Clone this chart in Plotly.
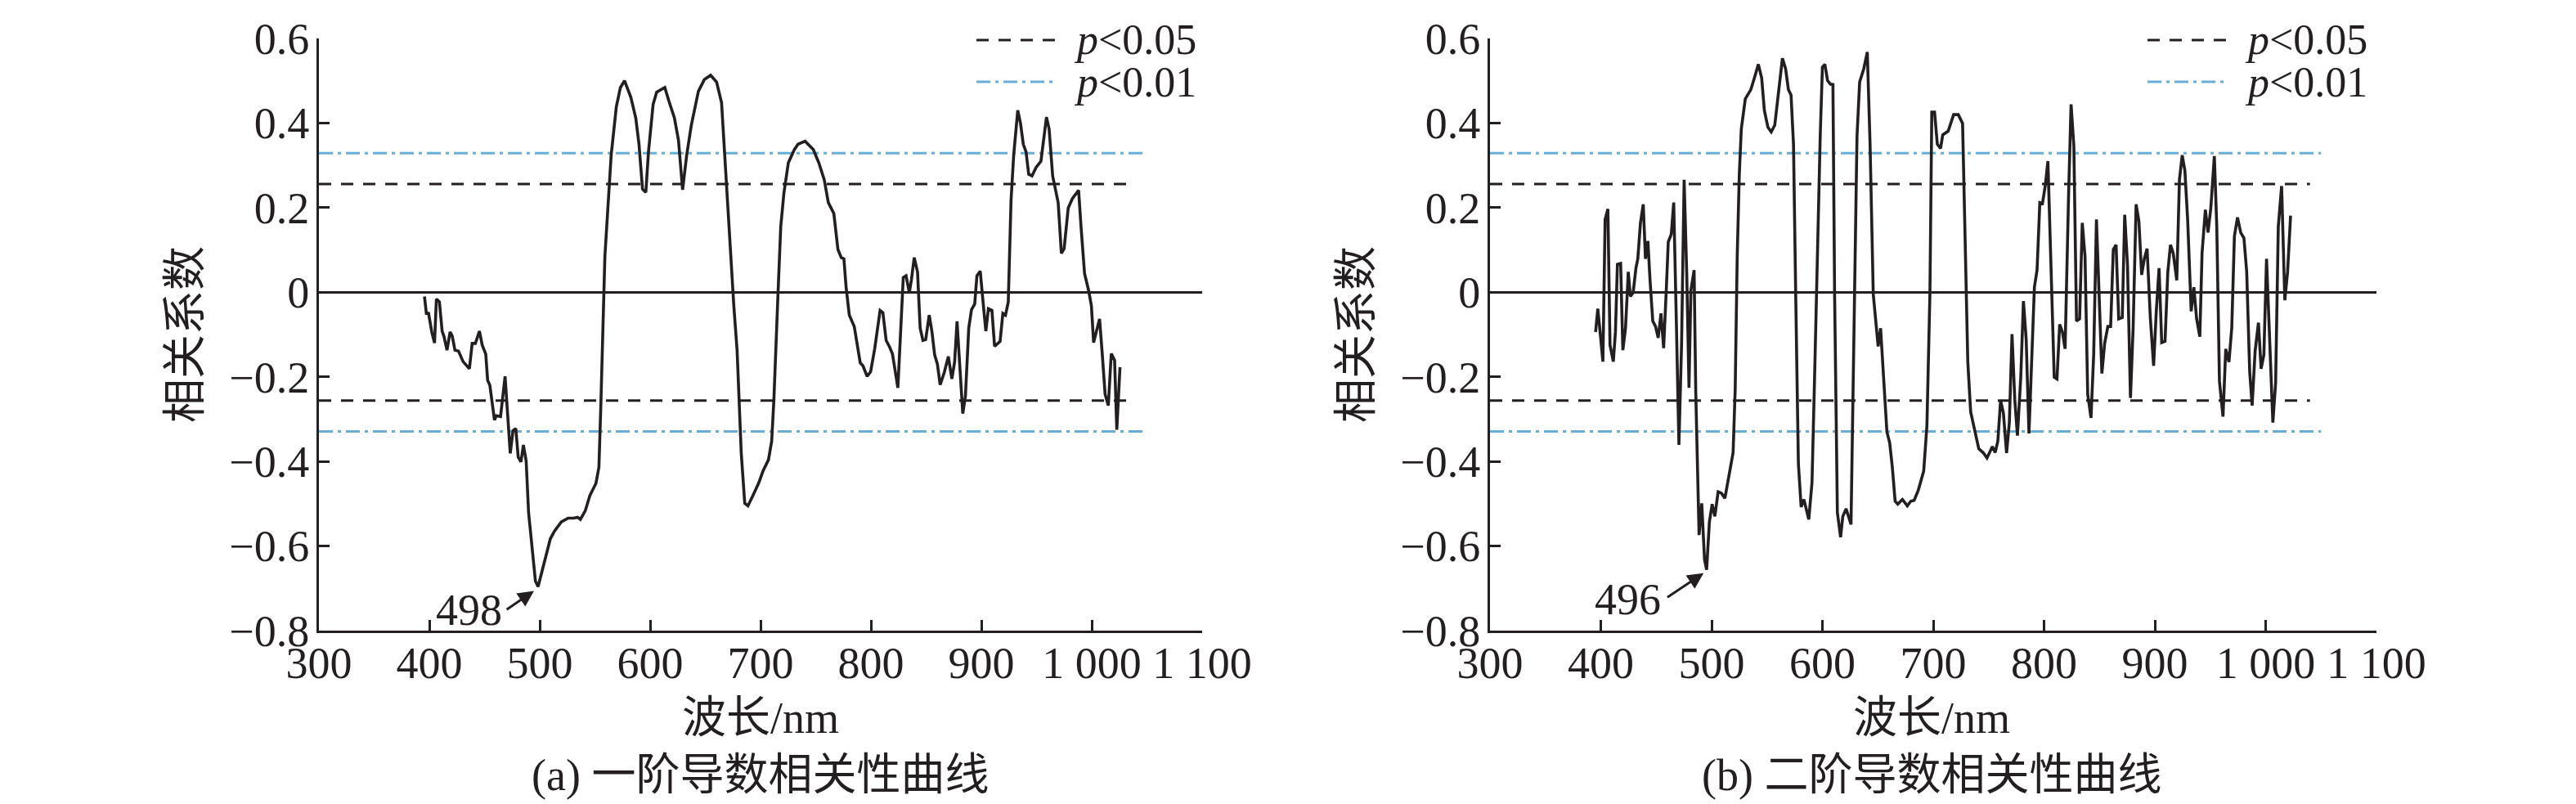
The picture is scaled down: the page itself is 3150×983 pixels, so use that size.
import plotly.graph_objects as go
from plotly.subplots import make_subplots

# 波长 (nm) 与相关系数 —— 一阶导数
wl_a = [395.6, 397.3, 399.3, 402.2, 404.7, 406.4, 409.1, 411.6, 413.3, 416.0, 418.8, 420.7,
        423.2, 426.4, 430.6, 436.3, 438.8, 441.7, 445.4, 447.9, 451.1, 452.8, 454.8, 459.0,
        460.7, 464.5, 468.6, 470.9, 473.3, 475.8, 478.3, 480.5, 483.0, 485.2, 487.7, 489.9,
        493.1, 496.1, 498.5, 503.0, 509.6, 513.3, 519.5, 525.7, 530.6, 534.3, 536.8, 541.2,
        545.4, 550.9, 553.6, 555.3, 557.0, 559.0, 561.5, 564.7, 569.4, 573.1, 576.8, 582.5,
        587.0, 589.9, 593.1, 596.1, 598.5, 602.7, 605.9, 613.3, 617.0, 622.0, 625.7, 629.4,
        633.1, 637.3, 643.7, 649.1, 654.8, 660.2, 664.7, 667.6, 670.1, 672.6, 675.8, 678.8,
        682.5, 685.7, 688.6, 693.6, 698.5, 702.2, 707.2, 710.1, 712.1, 715.8, 718.3, 721.2,
        725.2, 730.6, 734.0, 740.4, 747.9, 752.8, 757.7, 761.4, 766.4, 770.1, 773.1, 775.5,
        777.5, 780.4, 784.9, 790.3, 792.8, 796.5, 799.7, 803.4, 808.3, 810.8, 813.8, 817.0,
        819.5, 824.4, 826.9, 829.3, 831.8, 834.8, 836.7, 839.2, 842.2, 844.6, 847.1, 849.6,
        852.8, 855.3, 857.7, 860.2, 862.7, 866.4, 870.1, 873.3, 875.8, 878.0, 880.7, 883.2,
        885.6, 888.6, 891.1, 894.0, 896.0, 899.0, 902.2, 904.1, 906.4, 909.6, 912.0, 917.0,
        919.5, 921.9, 924.4, 926.9, 929.3, 933.0, 935.5, 938.0, 940.5, 942.9, 945.9, 949.6,
        954.0, 959.0, 961.4, 964.6, 969.6, 972.5, 975.0, 978.7, 982.4, 988.1, 990.3, 993.5,
        997.2, 999.7, 1001.7, 1004.6, 1007.1, 1009.6, 1012.1, 1015.0, 1017.7, 1020.7, 1022.7,
        1025.6]
r_a = [-0.01, -0.05, -0.05, -0.094, -0.12, -0.016, -0.023, -0.092, -0.105, -0.137, -0.094, -0.103,
       -0.137, -0.139, -0.164, -0.181, -0.121, -0.121, -0.092, -0.125, -0.146, -0.208, -0.22, -0.302,
       -0.292, -0.294, -0.199, -0.281, -0.381, -0.327, -0.322, -0.39, -0.401, -0.361, -0.399, -0.521,
       -0.601, -0.683, -0.696, -0.65, -0.583, -0.565, -0.543, -0.534, -0.534, -0.532, -0.537, -0.517,
       -0.481, -0.452, -0.414, -0.272, -0.094, 0.084, 0.19, 0.324, 0.439, 0.484, 0.5, 0.461,
       0.412, 0.35, 0.244, 0.236, 0.332, 0.444, 0.473, 0.484, 0.452, 0.412, 0.359, 0.242,
       0.324, 0.395, 0.475, 0.503, 0.513, 0.497, 0.448, 0.324, 0.208, 0.084, -0.032, -0.139,
       -0.379, -0.499, -0.505, -0.478, -0.45, -0.423, -0.396, -0.352, -0.254, -0.005, 0.155, 0.235,
       0.306, 0.337, 0.35, 0.357, 0.337, 0.306, 0.266, 0.212, 0.186, 0.101, 0.082, 0.079,
       0.012, -0.054, -0.081, -0.167, -0.174, -0.199, -0.188, -0.134, -0.043, -0.048, -0.114, -0.13,
       -0.146, -0.226, -0.094, 0.035, 0.039, -0.001, 0.03, 0.082, 0.048, -0.085, -0.114, -0.112,
       -0.054, -0.094, -0.148, -0.17, -0.219, -0.19, -0.152, -0.205, -0.165, -0.069, -0.183, -0.287,
       -0.245, -0.085, -0.041, -0.028, 0.039, 0.05, -0.041, -0.092, -0.039, -0.043, -0.128, -0.116,
       -0.05, -0.054, -0.023, 0.217, 0.324, 0.43, 0.399, 0.35, 0.332, 0.279, 0.275, 0.295,
       0.31, 0.414, 0.386, 0.275, 0.212, 0.092, 0.103, 0.199, 0.221, 0.241, 0.155, 0.044,
       0.004, -0.032, -0.119, -0.085, -0.063, -0.148, -0.241, -0.268, -0.145, -0.161, -0.325,
       -0.177]

# 二阶导数
wl_b = [395.3, 397.3, 399.7, 401.9, 403.9, 406.4, 408.3, 411.3, 413.2, 415.0, 417.9, 419.9,
        422.3, 424.8, 426.7, 429.2, 431.7, 433.4, 435.8, 438.3, 440.3, 442.5, 444.4, 446.9,
        449.4, 451.8, 454.3, 456.7, 459.2, 460.9, 463.6, 465.8, 468.3, 470.5, 472.9, 475.2,
        477.6, 479.6, 481.3, 484.2, 485.7, 488.7, 491.1, 493.6, 495.5, 498.0, 500.5, 502.9,
        505.9, 508.8, 512.0, 515.7, 519.4, 521.3, 523.1, 525.0, 526.8, 530.4, 535.4, 539.0,
        542.2, 545.2, 547.6, 550.8, 553.8, 557.0, 559.9, 563.9, 566.8, 569.3, 571.7, 573.9,
        575.9, 578.3, 580.8, 583.3, 587.7, 590.6, 593.1, 596.0, 598.0, 600.0, 602.2, 604.6,
        607.1, 609.5, 611.0, 613.5, 616.4, 618.4, 621.4, 625.8, 628.2, 631.2, 633.6, 637.3,
        640.5, 643.0, 645.9, 648.4, 650.3, 652.5, 655.7, 658.2, 660.7, 663.1, 665.6, 668.0,
        672.2, 676.6, 679.8, 682.8, 686.5, 691.4, 694.3, 697.0, 698.7, 701.2, 703.7, 706.6,
        708.6, 713.5, 718.4, 722.6, 726.5, 728.2, 731.2, 733.8, 736.7, 741.1, 745.3, 748.5,
        753.4, 755.9, 758.3, 760.8, 763.3, 766.2, 768.7, 771.1, 773.6, 776.0, 779.0, 781.4,
        783.9, 786.4, 788.8, 791.3, 793.7, 796.2, 798.6, 801.1, 803.5, 806.0, 809.2, 811.7,
        814.1, 816.6, 819.0, 822.2, 824.4, 826.9, 829.3, 832.1, 834.5, 837.0, 839.4, 842.4,
        844.8, 847.3, 849.7, 852.2, 854.7, 857.6, 860.1, 862.5, 865.0, 867.4, 870.6, 872.8,
        875.3, 878.0, 880.4, 883.1, 885.6, 888.1, 890.5, 893.0, 895.9, 898.9, 901.3, 903.8,
        906.2, 909.2, 911.7, 914.1, 916.6, 919.8, 922.2, 924.7, 927.1, 929.6, 932.8, 935.2,
        937.7, 940.6, 942.6, 945.6, 948.0, 950.5, 953.7, 955.9, 958.3, 961.5, 964.0, 966.9,
        969.4, 971.8, 974.6, 977.5, 980.4, 982.9, 985.6, 987.8, 990.5, 993.5, 995.9, 998.4,
        1000.8, 1003.3, 1006.5, 1009.0, 1011.4, 1014.4, 1017.3, 1019.8, 1022.5]
r_b = [-0.094, -0.039, -0.103, -0.164, 0.172, 0.197, -0.125, -0.164, -0.094, 0.066, 0.068, -0.137,
       -0.085, 0.048, -0.01, -0.001, 0.057, 0.079, 0.164, 0.208, 0.079, 0.121, 0.03, -0.068,
       -0.081, -0.108, -0.05, -0.132, 0.012, 0.119, 0.137, 0.212, -0.085, -0.361, -0.121, 0.266,
       0.039, -0.226, 0.004, 0.052, -0.236, -0.574, -0.499, -0.632, -0.656, -0.543, -0.501, -0.53,
       -0.472, -0.475, -0.487, -0.432, -0.379, -0.228, 0.084, 0.279, 0.386, 0.457, 0.479, 0.51,
       0.539, 0.506, 0.43, 0.39, 0.379, 0.395, 0.457, 0.553, 0.528, 0.479, 0.466, 0.35,
       -0.005, -0.405, -0.508, -0.49, -0.537, -0.45, -0.183, 0.172, 0.368, 0.532, 0.539, 0.501,
       0.492, 0.491, -0.005, -0.521, -0.579, -0.53, -0.512, -0.549, -0.094, 0.368, 0.497, 0.528,
       0.568, 0.35, -0.005, -0.085, -0.128, -0.085, -0.228, -0.33, -0.356, -0.414, -0.494, -0.501,
       -0.49, -0.505, -0.494, -0.492, -0.468, -0.423, -0.316, -0.005, 0.426, 0.426, 0.35, 0.34,
       0.372, 0.381, 0.42, 0.42, 0.399, 0.172, -0.165, -0.283, -0.321, -0.37, -0.38, -0.392,
       -0.365, -0.379, -0.352, -0.256, -0.285, -0.38, -0.308, -0.099, -0.254, -0.339, -0.201, -0.021,
       -0.112, -0.334, -0.165, 0.012, 0.052, 0.212, 0.21, 0.252, 0.31, 0.084, -0.201, -0.205,
       -0.076, -0.094, -0.134, 0.235, 0.444, 0.346, -0.068, -0.063, 0.164, 0.084, -0.241, -0.297,
       -0.148, 0.172, 0.012, -0.192, -0.121, -0.081, -0.081, 0.101, 0.112, -0.063, -0.06, 0.183,
       0.066, -0.25, -0.085, 0.208, 0.168, 0.041, 0.079, 0.103, -0.059, -0.174, -0.045, 0.057,
       -0.119, -0.116, 0.048, 0.112, 0.092, 0.028, 0.266, 0.324, 0.288, 0.172, -0.045, 0.012,
       -0.063, -0.105, 0.092, 0.195, 0.141, 0.199, 0.322, 0.155, -0.21, -0.294, -0.134, -0.165,
       -0.085, 0.132, 0.177, 0.141, 0.128, 0.048, -0.188, -0.268, -0.139, -0.072, -0.181, -0.148,
       0.079, -0.094, -0.308, -0.214, 0.155, 0.251, -0.019, 0.048, 0.181]

# 显著性阈值
r05 = 0.256
r01 = 0.329
thr_wl_05 = [300, 1040]
thr_wl_01 = [300, 1050]

# 极值标注
peak_a = (496, -0.704)
peak_b = (494, -0.662)

x_ticks = [300, 400, 500, 600, 700, 800, 900, 1000, 1100]
x_ticktext = ["300", "400", "500", "600", "700", "800", "900", "1 000", "1 100"]
y_ticks = [-0.8, -0.6, -0.4, -0.2, 0, 0.2, 0.4, 0.6]
y_ticktext = ["\u22120.8", "\u22120.6", "\u22120.4", "\u22120.2", "0", "0.2", "0.4", "0.6"]

W, H = 3150, 983
INK = "#231F20"
BLUE = "#6AAED8"
SERIF = "Liberation Serif, Noto Sans CJK SC"
FS = 54

fig = make_subplots(rows=1, cols=2)

for col, (wl, r) in enumerate([(wl_a, r_a), (wl_b, r_b)], start=1):
    fig.add_trace(go.Scatter(x=thr_wl_05, y=[r05, r05], mode="lines",
                             line=dict(color=INK, width=3, dash="15px,12px"),
                             showlegend=False), row=1, col=col)
    fig.add_trace(go.Scatter(x=thr_wl_05, y=[-r05, -r05], mode="lines",
                             line=dict(color=INK, width=3, dash="15px,12px"),
                             showlegend=False), row=1, col=col)
    fig.add_trace(go.Scatter(x=thr_wl_01, y=[r01, r01], mode="lines",
                             line=dict(color=BLUE, width=3, dash="17px,6px,4px,6px"),
                             showlegend=False), row=1, col=col)
    fig.add_trace(go.Scatter(x=thr_wl_01, y=[-r01, -r01], mode="lines",
                             line=dict(color=BLUE, width=3, dash="17px,6px,4px,6px"),
                             showlegend=False), row=1, col=col)
    fig.add_trace(go.Scatter(x=wl, y=r, mode="lines",
                             line=dict(color=INK, width=3.6),
                             showlegend=False), row=1, col=col)

# 坐标轴
x_domains = [[382 / W, 1462 / W], [1814 / W, 2898 / W]]
for i in range(2):
    fig.update_xaxes(domain=x_domains[i], range=[300, 1100], tickvals=x_ticks, ticktext=x_ticktext,
                     ticks="inside", ticklen=13, tickwidth=3, tickcolor=INK, automargin=False,
                     showline=True, linecolor=INK, linewidth=3, showgrid=False, zeroline=False,
                     tickfont=dict(family=SERIF, size=FS, color=INK), ticklabelstandoff=-10,
                     row=1, col=i + 1)
    fig.update_yaxes(domain=[1 - 763 / H, 1 - 39 / H], range=[-0.8, 0.6], tickvals=y_ticks,
                     ticktext=y_ticktext, ticks="inside", ticklen=13, tickwidth=3, tickcolor=INK,
                     showline=True, linecolor=INK, linewidth=3, showgrid=False, automargin=False,
                     zeroline=True, zerolinecolor=INK, zerolinewidth=2.5,
                     tickfont=dict(family=SERIF, size=FS, color=INK), ticklabelstandoff=-2,
                     row=1, col=i + 1)

annotations = []
shapes = []
panel_dx = 1432
captions = ["(a) 一阶导数相关性曲线", "(b) 二阶导数相关性曲线"]
peaks = [(peak_a, (469, -0.752), "498", (436, -0.752)),
         (peak_b, (459, -0.723), "496", (424, -0.727))]
for i in range(2):
    off = i * panel_dx
    xa = "x" if i == 0 else "x2"
    ya = "y" if i == 0 else "y2"
    # 坐标轴标题
    annotations.append(dict(x=(213 + off) / W, y=1 - 401 / H, xref="paper", yref="paper",
                            text="相关系数", textangle=-90, showarrow=False,
                            xanchor="center", yanchor="middle",
                            font=dict(family="Noto Sans CJK SC", size=FS, color=INK)))
    annotations.append(dict(x=(922 + off) / W, y=1 - 870 / H, xref="paper", yref="paper",
                            text="波长/nm", showarrow=False, xanchor="center", yanchor="middle",
                            font=dict(family=SERIF, size=FS, color=INK)))
    annotations.append(dict(x=(922 + off) / W, y=1 - 940 / H, xref="paper", yref="paper",
                            text=captions[i], showarrow=False, xanchor="center", yanchor="middle",
                            font=dict(family=SERIF, size=FS, color=INK)))
    # 极值箭头
    tip, tail, label, label_pos = peaks[i]
    annotations.append(dict(x=tip[0], y=tip[1], xref=xa, yref=ya, ax=tail[0], ay=tail[1],
                            axref=xa, ayref=ya, text="", showarrow=True, arrowhead=2,
                            arrowsize=1.3, arrowwidth=3, arrowcolor=INK, standoff=2))
    annotations.append(dict(x=label_pos[0], y=label_pos[1], xref=xa, yref=ya, text=label,
                            showarrow=False, xanchor="center", yanchor="middle",
                            font=dict(family=SERIF, size=FS, color=INK)))
    # 图例
    for row, (color, dash, txt) in enumerate([(INK, "15px,12px", "<i>p</i>&lt;0.05"),
                                               (BLUE, "17px,6px,4px,6px", "<i>p</i>&lt;0.01")]):
        yy = 1 - (41 + 51 * row) / H
        shapes.append(dict(type="line", xref="paper", yref="paper",
                           x0=(1186 + off) / W, x1=(1282 + off) / W, y0=yy, y1=yy,
                           line=dict(color=color, width=3, dash=dash)))
        annotations.append(dict(x=(1303 + off) / W, y=yy, xref="paper", yref="paper",
                                text=txt, showarrow=False, xanchor="left", yanchor="middle",
                                font=dict(family=SERIF, size=52, color=INK)))

fig.update_layout(width=W, height=H, margin=dict(l=0, r=0, t=0, b=0, pad=0),
                  plot_bgcolor="white", paper_bgcolor="white",
                  annotations=annotations, shapes=shapes, showlegend=False)

fig.write_html("out.html")
